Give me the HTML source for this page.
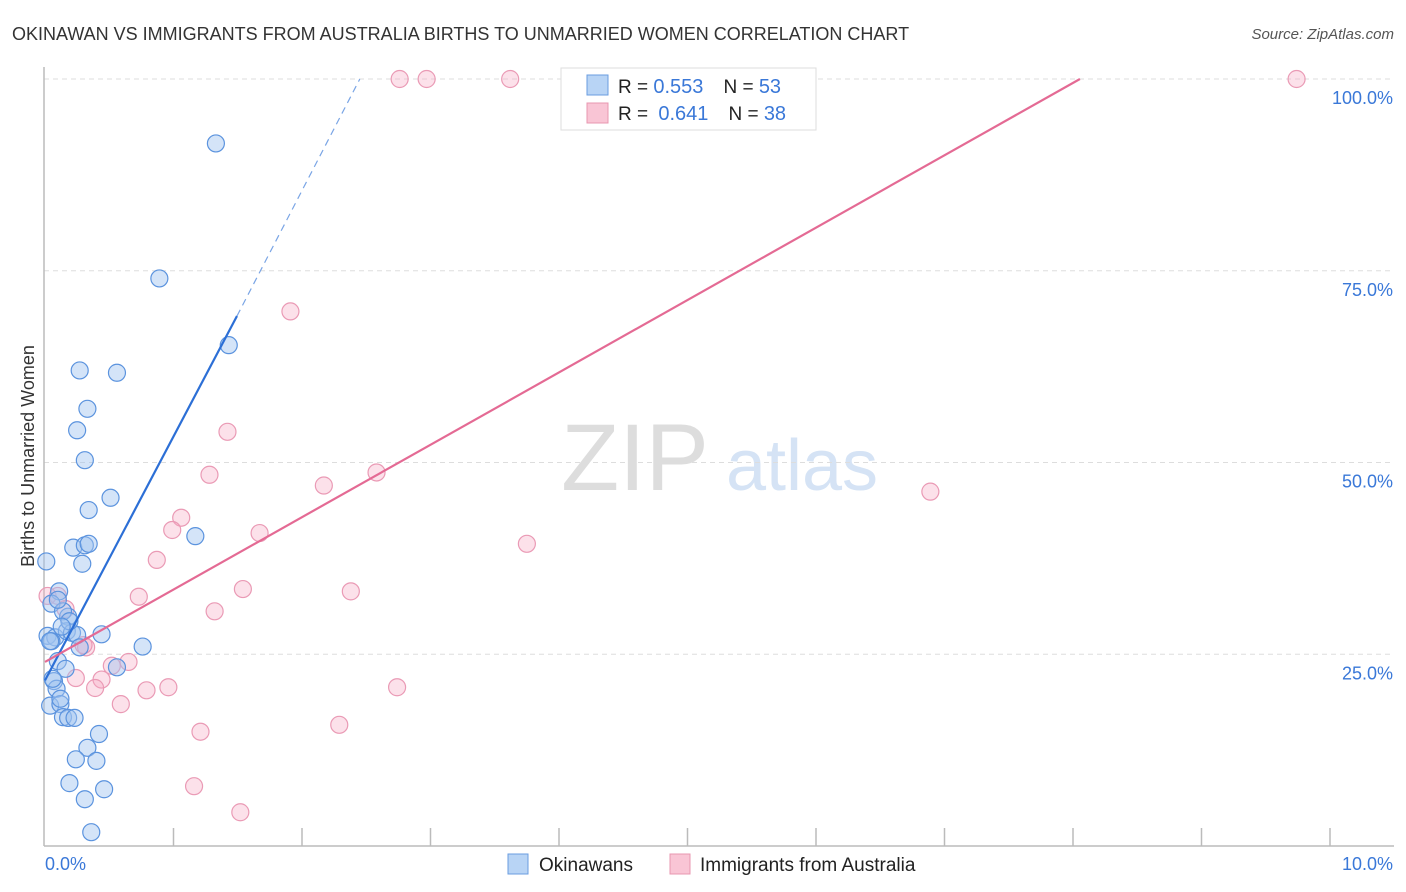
<!DOCTYPE html>
<html><head><meta charset="utf-8">
<style>
body{margin:0;background:#fff;font-family:"Liberation Sans",sans-serif;}
#wrap{position:relative;width:1406px;height:892px;overflow:hidden;}
svg text{font-family:"Liberation Sans",sans-serif;}
</style></head>
<body>
<div id="wrap">
<svg id="chart" width="1406" height="892">
  <text x="12" y="40" font-size="18" fill="#333">OKINAWAN VS IMMIGRANTS FROM AUSTRALIA BIRTHS TO UNMARRIED WOMEN CORRELATION CHART</text>
  <text x="1394" y="39" font-size="15" fill="#555" font-style="italic" text-anchor="end">Source: ZipAtlas.com</text>
  <text x="34" y="456" font-size="18" fill="#333" text-anchor="middle" transform="rotate(-90 34 456)">Births to Unmarried Women</text>
  <g>
    <text x="635" y="490" font-size="95" fill="#ddd" font-family="Liberation Serif" text-anchor="middle">ZIP</text>
    <text x="802" y="490" font-size="72" fill="#d5e3f5" text-anchor="middle">atlas</text>
  </g>
  <g id="grid"></g>
  <g id="axes"></g>
  <g id="pts"></g>
  <g id="lines"></g>
  <g>
    <rect x="561" y="68" width="255" height="62" fill="#fff" stroke="#ddd"/>
    <rect x="587" y="75" width="21" height="20" fill="#b8d4f5" stroke="#6a9de0"/>
    <rect x="587" y="103" width="21" height="20" fill="#f9c5d5" stroke="#e897b0"/>
    <text x="618" y="93" font-size="19" fill="#222">R = <tspan fill="#3a78d8" font-size="20">0.553</tspan><tspan dx="20">N = </tspan><tspan fill="#3a78d8" font-size="20">53</tspan></text>
    <text x="618" y="120" font-size="19" fill="#222">R = <tspan dx="5" fill="#3a78d8" font-size="20">0.641</tspan><tspan dx="20">N = </tspan><tspan fill="#3a78d8" font-size="20">38</tspan></text>
  </g>
  <g>
    <rect x="508" y="854" width="20" height="20" fill="#b8d4f5" stroke="#6a9de0"/>
    <text x="539" y="871" font-size="19" fill="#222">Okinawans</text>
    <rect x="670" y="854" width="20" height="20" fill="#f9c5d5" stroke="#e897b0"/>
    <text x="700" y="871" font-size="19" fill="#222">Immigrants from Australia</text>
  </g>
</svg>
</div>
<script>
const xTickLabels = ["0.0%", "10.0%"];
const yTicks = [25, 50, 75, 100];
const yTickLabels = ["25.0%", "50.0%", "75.0%", "100.0%"];
const okiX = [1.33,0.89,0.27,0.56,1.43,0.33,0.25,0.31,0.51,0.34,1.17,0.22,0.31,0.34,0.29,0.01,0.11,0.05,0.18,0.14,0.02,0.08,0.17,0.21,0.25,0.44,0.76,0.27,0.56,0.10,0.16,0.07,0.09,0.06,0.04,0.12,0.14,0.18,0.23,0.42,0.33,0.24,0.40,0.19,0.31,0.46,0.36,0.05,0.12,0.04,0.19,0.10,0.13];
const okiY = [91.6,74.0,62.0,61.7,65.3,57.0,54.2,50.3,45.4,43.8,40.4,38.9,39.2,39.4,36.8,37.1,33.2,31.6,29.9,30.6,27.4,27.2,28.0,27.8,27.5,27.6,26.0,25.9,23.3,24.1,23.1,21.5,20.5,21.8,18.3,18.5,16.8,16.7,16.7,14.6,12.8,11.3,11.1,8.2,6.1,7.4,1.8,26.7,19.2,26.7,29.3,32.1,28.6];
const ausX = [2.76,2.97,3.62,4.13,9.74,1.91,1.42,1.28,2.58,2.17,1.06,0.99,1.67,0.87,1.54,2.38,0.73,1.32,0.10,0.32,0.65,0.52,0.44,0.24,0.39,0.96,0.79,0.59,2.74,3.75,6.89,2.29,1.21,1.16,1.52,0.02,0.16,0.30];
const ausY = [100,100,100,100,100,69.7,54.0,48.4,48.7,47.0,42.8,41.2,40.8,37.3,33.5,33.2,32.5,30.6,32.6,25.9,24.0,23.5,21.7,21.9,20.6,20.7,20.3,18.5,20.7,39.4,46.2,15.8,14.9,7.8,4.4,32.6,30.9,26.2];
const okiLine = [0, 21.6, 1.494, 69.1, 2.45, 100];
const ausLine = [0, 24.0, 8.054, 100];

const X0=45, X1=1330, Y0=846, Y100=79;
const sx = v => X0 + (X1-X0)*v/10;
const sy = v => Y0 - (Y0-Y100)*v/100;
const NS="http://www.w3.org/2000/svg";
function mk(tag, attrs, parent){const e=document.createElementNS(NS,tag);for(const k in attrs)e.setAttribute(k,attrs[k]);parent.appendChild(e);return e;}

const grid=document.getElementById('grid');
yTicks.forEach((t,i)=>{
  const l=mk('line',{x1:44,x2:1394,y1:sy(t),y2:sy(t),stroke:'#ddd','stroke-dasharray':'5,4'},grid);
  
  
  const tx=mk('text',{x:1393,y:sy(t)+25,'font-size':18,fill:'#3a78d8','text-anchor':'end'},grid);
  tx.textContent=yTickLabels[i];
  
  
});
const axes=document.getElementById('axes');
let a=mk('line',{x1:44,x2:44,y1:67,y2:846,stroke:'#bbb','stroke-width':1.5},axes);


a=mk('line',{x1:44,x2:1394,y1:846,y2:846,stroke:'#bbb','stroke-width':1.5},axes);


for(let i=1;i<=10;i++){
  const t=mk('line',{x1:sx(i),x2:sx(i),y1:828,y2:846,stroke:'#bbb','stroke-width':1.5},axes);
  
  
}
[[0,45,'start'],[1,1393,'end']].forEach(([i,x,an])=>{
  const t=mk('text',{x:x,y:870,'font-size':18,fill:'#3a78d8','text-anchor':an},axes);
  t.textContent=xTickLabels[i];
  
  
});
const pts=document.getElementById('pts');
ausX.forEach((x,i)=>{
  const c=mk('circle',{cx:sx(x),cy:sy(ausY[i]),r:8.5,fill:'rgba(246,170,195,0.35)',stroke:'#ea9ab5','stroke-width':1.2},pts);
  
  
});
okiX.forEach((x,i)=>{
  const c=mk('circle',{cx:sx(x),cy:sy(okiY[i]),r:8.5,fill:'rgba(160,196,240,0.45)',stroke:'#5b93de','stroke-width':1.2},pts);
  
  
});
const lines=document.getElementById('lines');
let ln=mk('line',{x1:sx(okiLine[0]),y1:sy(okiLine[1]),x2:sx(okiLine[2]),y2:sy(okiLine[3]),stroke:'#2c6fd6','stroke-width':2.2},lines);


ln=mk('line',{x1:sx(okiLine[2]),y1:sy(okiLine[3]),x2:sx(okiLine[4]),y2:sy(okiLine[5]),stroke:'#7aa5e5','stroke-width':1.2,'stroke-dasharray':'7,5'},lines);


ln=mk('line',{x1:sx(ausLine[0]),y1:sy(ausLine[1]),x2:sx(ausLine[2]),y2:sy(ausLine[3]),stroke:'#e46a94','stroke-width':2.2},lines);


</script>
</body></html>
